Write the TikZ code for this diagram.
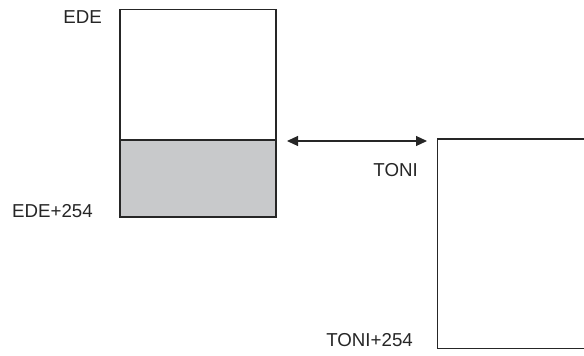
\documentclass[tikz,border=0pt]{standalone}
\usepackage{fontspec}
\setmainfont{Liberation Sans}
\usepackage{xcolor}
\usepackage{tikz}
\usetikzlibrary{positioning,arrows.meta}

\definecolor{shade}{RGB}{200,201,203}
\tikzset{
  membox/.style={draw=black!85,line width=1.3pt,inner sep=0pt,outer sep=0pt,anchor=north west},
  addr/.style={font=\fontsize{18.7}{21}\selectfont,text=black!85,inner sep=0pt,anchor=base east}
}

\begin{document}
\begin{tikzpicture}[x=1pt,y=-1pt]
\useasboundingbox (0,0) rectangle (584,356);
\clip (0,0) rectangle (584,356);
  % left block, upper half and shaded lower half
  \node[membox,minimum width=156pt,minimum height=130.5pt] (edetop) at (120,9.5) {};
  \node[membox,fill=shade,minimum width=156pt,minimum height=77pt] (edebot) at (edetop.south west) {};
  \draw[line width=1.3pt,draw=black!85] (edetop.north west) rectangle (edebot.south east);
  % right block, runs off the page
  \node[membox,minimum width=170pt,minimum height=209.5pt] (toni) at (437.5,139) {};
  % labels
  \node[addr] (ede) at (102,23.3) {EDE};
  \node[addr] (edeend) at (93,217) {EDE+254};
  \node[addr] (tonilbl) at (418,176.3) {TONI};
  \node[addr] (tonend) at (413,346.3) {TONI+254};
  % the copy arrow
  \draw[{Triangle[length=11pt,width=10pt]}-{Triangle[length=11pt,width=10pt]},line width=1.1pt,draw=black!85,fill=black!85]
    ([xshift=11pt,yshift=-1pt]edetop.south east) -- ([xshift=-10.5pt,yshift=-2pt]toni.north west);
\end{tikzpicture}
\end{document}
